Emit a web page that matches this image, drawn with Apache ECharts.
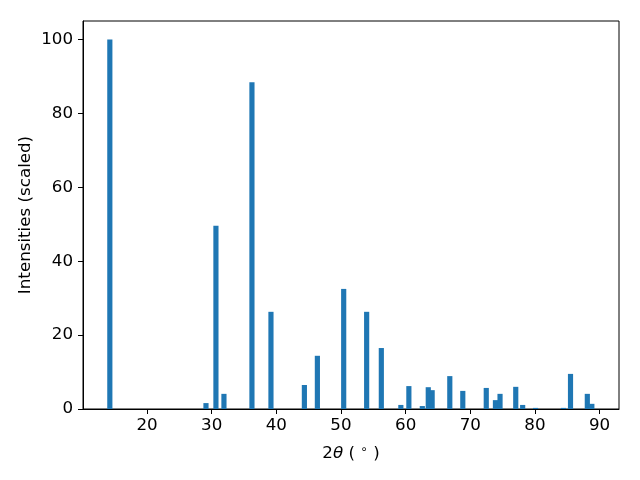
<!DOCTYPE html>
<html>
<head>
<meta charset="utf-8">
<script src="https://cdn.jsdelivr.net/npm/echarts@6/dist/echarts.min.js"></script>
<style>html,body{margin:0;padding:0;background:#fff}#c{width:640px;height:480px}</style>
</head>
<body>
<div id="c"></div>
<script>
const positions = [14.25, 29.12, 30.66, 31.9, 36.23, 39.17, 44.34, 46.35, 50.42, 53.97, 56.24, 59.26, 60.5, 62.58, 63.5, 64.1, 66.83, 68.84, 72.47, 73.89, 74.6, 77.03, 78.1, 80.1, 84.4, 85.5, 88.1, 88.8];
const intensities = [100, 1.6, 49.6, 4.1, 88.4, 26.3, 6.5, 14.4, 32.5, 26.3, 16.5, 1.1, 6.2, 0.8, 5.9, 5.1, 8.9, 4.9, 5.7, 2.4, 4.1, 6.0, 1.1, 0.3, 0.3, 9.5, 4.1, 1.4];
const xTicks = [20, 30, 40, 50, 60, 70, 80, 90];
const yTicks = [0, 20, 40, 60, 80, 100];

const BAR_W = 0.8;
const font = 'DejaVu Sans';
const FS = 16.7;
const chart = echarts.init(document.getElementById('c'), null, {renderer: 'canvas'});
chart.setOption({
  animation: false,
  grid: {left: 83, right: 21, top: 21, bottom: 71, show: true, borderColor: '#000', borderWidth: 1, containLabel: false},
  xAxis: {
    type: 'value', min: 10.1, max: 93.0,
    splitLine: {show: false},
    axisLine: {show: true, onZero: false, lineStyle: {color: '#000', width: 1}},
    axisTick: {show: true, length: 5, lineStyle: {color: '#000'}, customValues: xTicks},
    axisLabel: {color: '#000', fontFamily: font, fontSize: FS, margin: 8, customValues: xTicks},
    name: '{n|2}{i|θ}{n| ( }{s|∘}{n| )}',
    nameLocation: 'middle', nameGap: 35, nameMoveOverlap: false,
    nameTextStyle: {color: '#000', fontFamily: font, fontSize: FS,
      rich: {
        n: {fontFamily: font, fontSize: FS, color: '#000'},
        i: {fontFamily: font, fontSize: FS, fontStyle: 'italic', color: '#000'},
        s: {fontFamily: font, fontSize: 12, color: '#000', verticalAlign: 'top', padding: [0,0,7,0]}
      }}
  },
  yAxis: {
    type: 'value', min: 0, max: 105,
    splitLine: {show: false},
    axisLine: {show: true, lineStyle: {color: '#000', width: 1}},
    axisTick: {show: true, length: 5, lineStyle: {color: '#000'}, customValues: yTicks},
    axisLabel: {color: '#000', fontFamily: font, fontSize: FS, margin: 10, customValues: yTicks},
    name: 'Intensities (scaled)',
    nameLocation: 'middle', nameGap: 49, nameRotate: 90, nameMoveOverlap: false,
    nameTextStyle: {color: '#000', fontFamily: font, fontSize: FS}
  },
  series: [{
    type: 'custom',
    data: positions.map((p, i) => [p, intensities[i]]),
    renderItem: function (params, api) {
      const x = api.value(0), y = api.value(1);
      const a = api.coord([x - BAR_W / 2, 0]);
      const b = api.coord([x + BAR_W / 2, y]);
      return {
        type: 'rect',
        shape: {x: a[0], y: b[1], width: b[0] - a[0], height: a[1] - b[1]},
        style: {fill: '#1f77b4'}
      };
    }
  }]
});
</script>
</body>
</html>
